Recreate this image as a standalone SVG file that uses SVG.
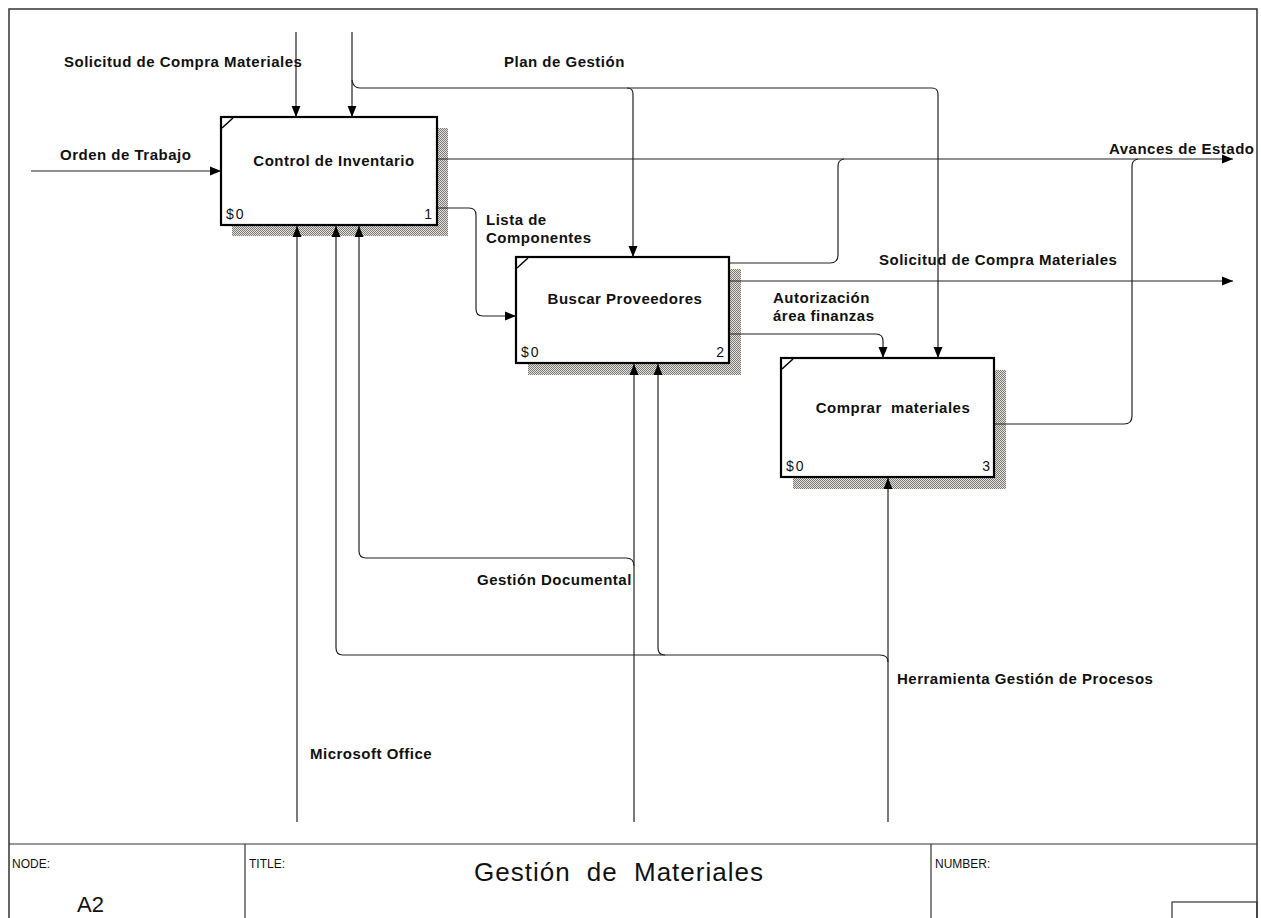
<svg xmlns="http://www.w3.org/2000/svg" width="1261" height="918" viewBox="0 0 1261 918">
  <style>
    .frame { fill: none; stroke: #333; stroke-width: 1.5; }
    .rule { fill: none; stroke: #333; stroke-width: 1.2; }
    .box { fill: #fff; stroke: #000; stroke-width: 2.2; }
    .shadow { fill: url(#hatch); }
    .tick { stroke: #000; stroke-width: 1.5; }
    .arrow { fill: none; stroke: #222; stroke-width: 1.2; }
    .lbl { font-family: "Liberation Sans", Arial, sans-serif; font-weight: bold; font-size: 15px; letter-spacing: 0.5px; fill: #111; }
    .name { font-family: "Liberation Sans", Arial, sans-serif; font-weight: bold; font-size: 15px; letter-spacing: 0.5px; fill: #111; text-anchor: middle; white-space: pre; }
    .cost { font-family: "Liberation Sans", Arial, sans-serif; font-size: 14px; letter-spacing: 2px; fill: #111; }
    .num { font-family: "Liberation Sans", Arial, sans-serif; font-size: 14px; fill: #111; text-anchor: end; }
    .small { font-family: "Liberation Sans", Arial, sans-serif; font-size: 12px; fill: #111; }
    .nodeid { font-family: "Liberation Sans", Arial, sans-serif; font-size: 22px; fill: #111; }
    .title { font-family: "Liberation Sans", Arial, sans-serif; font-size: 26px; letter-spacing: 1px; word-spacing: 8px; fill: #111; }
  </style>
  <defs>
    <pattern id="hatch" width="2" height="2" patternUnits="userSpaceOnUse">
      <rect width="2" height="2" fill="#e6e1d8"/>
      <rect width="1" height="1" fill="#7a7a7a"/>
      <rect x="1" y="1" width="1" height="1" fill="#7a7a7a"/>
    </pattern>
    <marker id="head" markerUnits="userSpaceOnUse" markerWidth="12" markerHeight="10" refX="11" refY="5" orient="auto">
      <path d="M0,0.5 L11,5 L0,9.5 z" fill="#000"/>
    </marker>
  </defs>

  <!-- sheet frame and title block -->
  <g id="sheet">
    <rect class="frame" x="9" y="9" width="1248" height="920"/>
    <line class="rule" x1="9" y1="844" x2="1257" y2="844"/>
    <line class="rule" x1="245" y1="844" x2="245" y2="918"/>
    <line class="rule" x1="931" y1="844" x2="931" y2="918"/>
    <rect class="rule" x="1172" y="902" width="85" height="20"/>
    <text class="small" x="12" y="868">NODE:</text>
    <text class="nodeid" x="77" y="912">A2</text>
    <text class="small" x="249" y="868">TITLE:</text>
    <text class="title" x="474" y="881">Gestión de Materiales</text>
    <text class="small" x="935" y="868">NUMBER:</text>
  </g>

  <!-- activity 1 -->
  <g id="node-1">
    <rect class="shadow" x="232" y="128" width="216" height="108"/>
    <rect class="box" x="221" y="117" width="216" height="108"/>
    <line class="tick" x1="222" y1="128" x2="233" y2="118"/>
    <text class="name" x="334" y="166">Control de Inventario</text>
    <text class="cost" x="226" y="219">$0</text>
    <text class="num" x="432" y="219">1</text>
  </g>

  <!-- activity 2 -->
  <g id="node-2">
    <rect class="shadow" x="528" y="269" width="213" height="106"/>
    <rect class="box" x="516" y="257" width="213" height="106"/>
    <line class="tick" x1="517" y1="268" x2="528" y2="258"/>
    <text class="name" x="625" y="304">Buscar Proveedores</text>
    <text class="cost" x="521" y="357">$0</text>
    <text class="num" x="724" y="357">2</text>
  </g>

  <!-- activity 3 -->
  <g id="node-3">
    <rect class="shadow" x="793" y="370" width="213" height="119"/>
    <rect class="box" x="781" y="358" width="213" height="119"/>
    <line class="tick" x1="782" y1="369" x2="793" y2="359"/>
    <text class="name" x="893" y="413">Comprar  materiales</text>
    <text class="cost" x="786" y="471">$0</text>
    <text class="num" x="990" y="471">3</text>
  </g>

  <!-- connectors (drawn last so heads sit on top of the shadows) -->
  <g id="connectors">
    <!-- inputs -->
    <path class="arrow" d="M31,171 L221,171" marker-end="url(#head)"/>
    <path class="arrow" d="M438,208 L469,208 Q476,208 476,215 L476,309 Q476,316 483,316 L516,316" marker-end="url(#head)"/>
    <!-- controls -->
    <path class="arrow" d="M296,32 L296,117" marker-end="url(#head)"/>
    <path class="arrow" d="M352,32 L352,117" marker-end="url(#head)"/>
    <path class="arrow" d="M352,80 Q353,88 360,88 L627,88 Q633,88 633,94 L633,257" marker-end="url(#head)"/>
    <path class="arrow" d="M627,88 L932,88 Q938,88 938,94 L938,358" marker-end="url(#head)"/>
    <path class="arrow" d="M730,334 L876,334 Q883,334 883,341 L883,358" marker-end="url(#head)"/>
    <!-- outputs -->
    <path class="arrow" d="M438,159 L1233,159" marker-end="url(#head)"/>
    <path class="arrow" d="M730,263 L830,263 Q838,263 838,255 L838,166 Q838,160 844,159"/>
    <path class="arrow" d="M995,424 L1124,424 Q1132,424 1132,416 L1132,166 Q1132,160 1138,159"/>
    <path class="arrow" d="M730,281 L1233,281" marker-end="url(#head)"/>
    <!-- mechanisms -->
    <path class="arrow" d="M297,822 L297,226" marker-end="url(#head)"/>
    <path class="arrow" d="M634,822 L634,364" marker-end="url(#head)"/>
    <path class="arrow" d="M634,566 Q634,558 626,558 L366,558 Q359,558 359,551 L359,226" marker-end="url(#head)"/>
    <path class="arrow" d="M888,822 L888,478" marker-end="url(#head)"/>
    <path class="arrow" d="M888,662 Q888,655 880,655 L343,655 Q336,655 336,648 L336,226" marker-end="url(#head)"/>
    <path class="arrow" d="M665,655 Q658,655 658,648 L658,364" marker-end="url(#head)"/>

    <!-- arrow labels -->
    <text class="lbl" x="64" y="67">Solicitud de Compra Materiales</text>
    <text class="lbl" x="504" y="67">Plan de Gestión</text>
    <text class="lbl" x="60" y="160">Orden de Trabajo</text>
    <text class="lbl" x="1109" y="154">Avances de Estado</text>
    <text class="lbl" x="486" y="225">Lista de</text>
    <text class="lbl" x="486" y="243">Componentes</text>
    <text class="lbl" x="879" y="265">Solicitud de Compra Materiales</text>
    <text class="lbl" x="773" y="303">Autorización</text>
    <text class="lbl" x="773" y="321">área finanzas</text>
    <text class="lbl" x="477" y="585">Gestión Documental</text>
    <text class="lbl" x="897" y="684">Herramienta Gestión de Procesos</text>
    <text class="lbl" x="310" y="759">Microsoft Office</text>
  </g>
</svg>
